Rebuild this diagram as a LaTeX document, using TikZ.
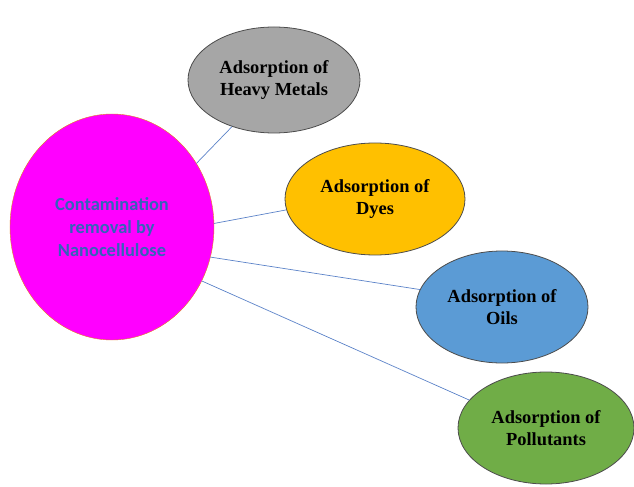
\documentclass[tikz,border=0pt]{standalone}
\usepackage{fontspec}
\setmainfont{Liberation Serif}
\newfontfamily\carlito{Carlito}[BoldFont={Carlito Bold}]
\usetikzlibrary{shapes.geometric}

\definecolor{hubpink}{RGB}{255,0,255}
\definecolor{hubtext}{RGB}{52,98,186}
\definecolor{metalgray}{RGB}{166,166,166}
\definecolor{dyeyellow}{RGB}{255,192,0}
\definecolor{oilblue}{RGB}{91,155,213}
\definecolor{pollgreen}{RGB}{112,173,71}
\definecolor{linkblue}{RGB}{91,130,200}

\tikzset{
	leaf/.style={ellipse,draw=black!70,line width=0.8pt,inner sep=0pt,align=center,
		font=\fontsize{18.5}{22}\selectfont\bfseries,text=black},
	link/.style={draw=linkblue,line width=0.7pt}
}

\begin{document}
\begin{tikzpicture}[x=1bp,y=-1bp]
				\useasboundingbox (0,0) rectangle (634,487);
				% hub
				\node[ellipse,fill=hubpink,draw=orange!60!brown,line width=0.4pt,
					minimum width=204bp,minimum height=226bp,inner sep=0pt,align=center,
					text=hubtext,font=\carlito\bfseries\fontsize{18.5}{23.5}\selectfont]
					(hub) at (112,227) {Contamination\\removal by\\Nanocellulose};
				% leaves
				\node[leaf,fill=metalgray,minimum width=172bp,minimum height=106bp] (metals) at (274,80) {Adsorption of\\Heavy Metals};
				\node[leaf,fill=dyeyellow,minimum width=180bp,minimum height=112bp] (dyes) at (375,199) {Adsorption of\\Dyes};
				\node[leaf,fill=oilblue,minimum width=172bp,minimum height=112bp] (oils) at (502,307) {Adsorption of\\Oils};
				\node[leaf,fill=pollgreen,minimum width=176bp,minimum height=112bp] (pollutants) at (546,428) {Adsorption of\\Pollutants};
				% links
				\draw[link] (hub.37) -- (metals.228);
				\draw[link] (hub.2) -- (dyes.187);
				\draw[link] (hub.-17) -- (oils.168);
				\draw[link] (hub.-31) -- (pollutants.160);
\end{tikzpicture}
\end{document}
